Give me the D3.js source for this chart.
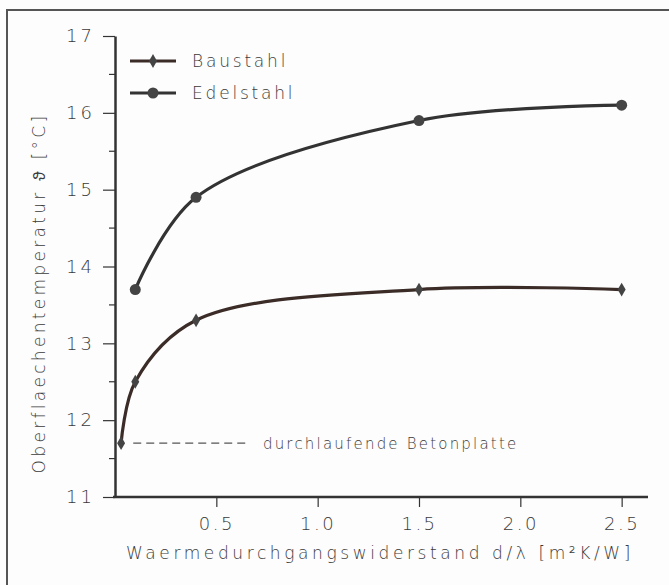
<!DOCTYPE html>
<html>
<head>
<meta charset="utf-8">
<script src="https://cdn.jsdelivr.net/npm/d3@7"></script>
<style>
  body { margin: 0; background: #fdfdfd; }
  svg, svg text { font-family: "DejaVu Sans", sans-serif; font-weight: 300; }
</style>
</head>
<body>
<div id="chart"></div>
<script>
// data
const xBau = [0.03, 0.1, 0.4, 1.5, 2.5];
const yBau = [11.7, 12.5, 13.3, 13.7, 13.7];
const xEdel = [0.1, 0.4, 1.5, 2.5];
const yEdel = [13.7, 14.9, 15.9, 16.1];
const xTicks = [0.5, 1.0, 1.5, 2.0, 2.5];
const yTicks = [11, 12, 13, 14, 15, 16, 17];
const yMinor = [11.5, 12.5, 13.5, 14.5, 15.5, 16.5];
const refValue = 11.7;
const refLabel = "durchlaufende Betonplatte";

const W = 669, H = 585;
const margin = { top: 36, right: 21, bottom: 88, left: 115 };
const width = W - margin.left - margin.right;
const height = H - margin.top - margin.bottom;

const svg = d3.select("#chart").append("svg").attr("width", W).attr("height", H);

// outer frame (right/bottom run off the picture)
svg.append("path")
  .attr("d", "M7,585 L7,10 L669,10")
  .attr("fill", "none").attr("stroke", "#555").attr("stroke-width", 2);

const g = svg.append("g").attr("transform", "translate(" + margin.left + "," + margin.top + ")");

const x = d3.scaleLinear().domain([0, 2.63]).range([0, width]);
const y = d3.scaleLinear().domain([11, 17]).range([height, 0]);

const textCol = "#3a3a3a";
const axisCol = "#333";

// x axis
const xAxis = g.append("g")
  .attr("transform", "translate(0," + height + ")")
  .call(d3.axisBottom(x).tickValues(xTicks).tickFormat(d3.format(".1f")).tickSize(10).tickPadding(10).tickSizeOuter(0))
  .attr("font-family", null).attr("font-size", null);
xAxis.select(".domain").attr("stroke", axisCol).attr("stroke-width", 2.5).attr("d", "M-2,0H" + width);
xAxis.selectAll(".tick line").attr("stroke", axisCol).attr("stroke-width", 1.2);
xAxis.selectAll(".tick text").attr("fill", textCol).style("font-size", "18px").style("letter-spacing", "2.5px");

// y axis
const yAxis = g.append("g")
  .call(d3.axisLeft(y).tickValues(yTicks).tickFormat(d3.format("d")).tickSize(12).tickPadding(8).tickSizeOuter(0))
  .attr("font-family", null).attr("font-size", null);
yAxis.select(".domain").attr("stroke", axisCol).attr("stroke-width", 2.5);
yAxis.selectAll(".tick line").attr("stroke", axisCol).attr("stroke-width", 1.2);
yAxis.selectAll(".tick text").attr("fill", textCol).style("font-size", "18px").style("letter-spacing", "3px");

// minor y ticks
g.append("g").selectAll("line").data(yMinor).join("line")
  .attr("x1", -6).attr("x2", 0)
  .attr("y1", d => y(d)).attr("y2", d => y(d))
  .attr("stroke", axisCol).attr("stroke-width", 1.2);

// axis titles
svg.append("text")
  .attr("x", 380).attr("y", 559)
  .attr("text-anchor", "middle")
  .attr("fill", textCol)
  .style("font-size", "17px").style("letter-spacing", "3.6px")
  .text("Waermedurchgangswiderstand d/λ [m²K/W]");

svg.append("text")
  .attr("transform", "translate(45,293) rotate(-90)")
  .attr("text-anchor", "middle")
  .attr("fill", textCol)
  .style("font-size", "17px").style("letter-spacing", "3.3px")
  .text("Oberflaechentemperatur ϑ [°C]");

// reference dashed line + label
g.append("line")
  .attr("x1", x(0.09)).attr("x2", x(0.65))
  .attr("y1", y(refValue)).attr("y2", y(refValue))
  .attr("stroke", "#555").attr("stroke-width", 1.3).attr("stroke-dasharray", "8,5");
g.append("text")
  .attr("x", x(0.73)).attr("y", y(refValue) + 6)
  .attr("fill", textCol)
  .style("font-size", "15px").style("letter-spacing", "2.2px")
  .text(refLabel);

// curves
const line = d3.line().x(d => x(d[0])).y(d => y(d[1])).curve(d3.curveCatmullRom.alpha(0.5));
const bau = xBau.map((v, i) => [v, yBau[i]]);
const edel = xEdel.map((v, i) => [v, yEdel[i]]);

const colBau = "#3b2c28";
const colEdel = "#333333";

g.append("path").datum(bau).attr("d", line)
  .attr("fill", "none").attr("stroke", colBau).attr("stroke-width", 3.2);
g.append("path").datum(edel).attr("d", line)
  .attr("fill", "none").attr("stroke", colEdel).attr("stroke-width", 3.2);

const diamond = d3.symbol().type(d3.symbolDiamond).size(55);

g.selectAll(".mBau").data(bau).join("path")
  .attr("class", "mBau")
  .attr("transform", d => "translate(" + x(d[0]) + "," + y(d[1]) + ")")
  .attr("d", diamond).attr("fill", "#444");
g.selectAll(".mEdel").data(edel).join("circle")
  .attr("class", "mEdel")
  .attr("cx", d => x(d[0])).attr("cy", d => y(d[1]))
  .attr("r", 5.5).attr("fill", "#444");

// legend
const legend = [
  { name: "Baustahl", col: colBau, mark: "diamond", ly: 61 },
  { name: "Edelstahl", col: colEdel, mark: "circle", ly: 93 }
];
legend.forEach(l => {
  svg.append("line").attr("x1", 130).attr("x2", 176).attr("y1", l.ly).attr("y2", l.ly)
    .attr("stroke", l.col).attr("stroke-width", 3);
  if (l.mark === "diamond") {
    svg.append("path").attr("transform", "translate(153," + l.ly + ")").attr("d", diamond).attr("fill", "#444");
  } else {
    svg.append("circle").attr("cx", 153).attr("cy", l.ly).attr("r", 5.5).attr("fill", "#444");
  }
  svg.append("text").attr("x", 192).attr("y", l.ly + 6)
    .attr("fill", textCol)
    .style("font-size", "17px").style("letter-spacing", "2.8px")
    .text(l.name);
});
</script>
</body>
</html>
